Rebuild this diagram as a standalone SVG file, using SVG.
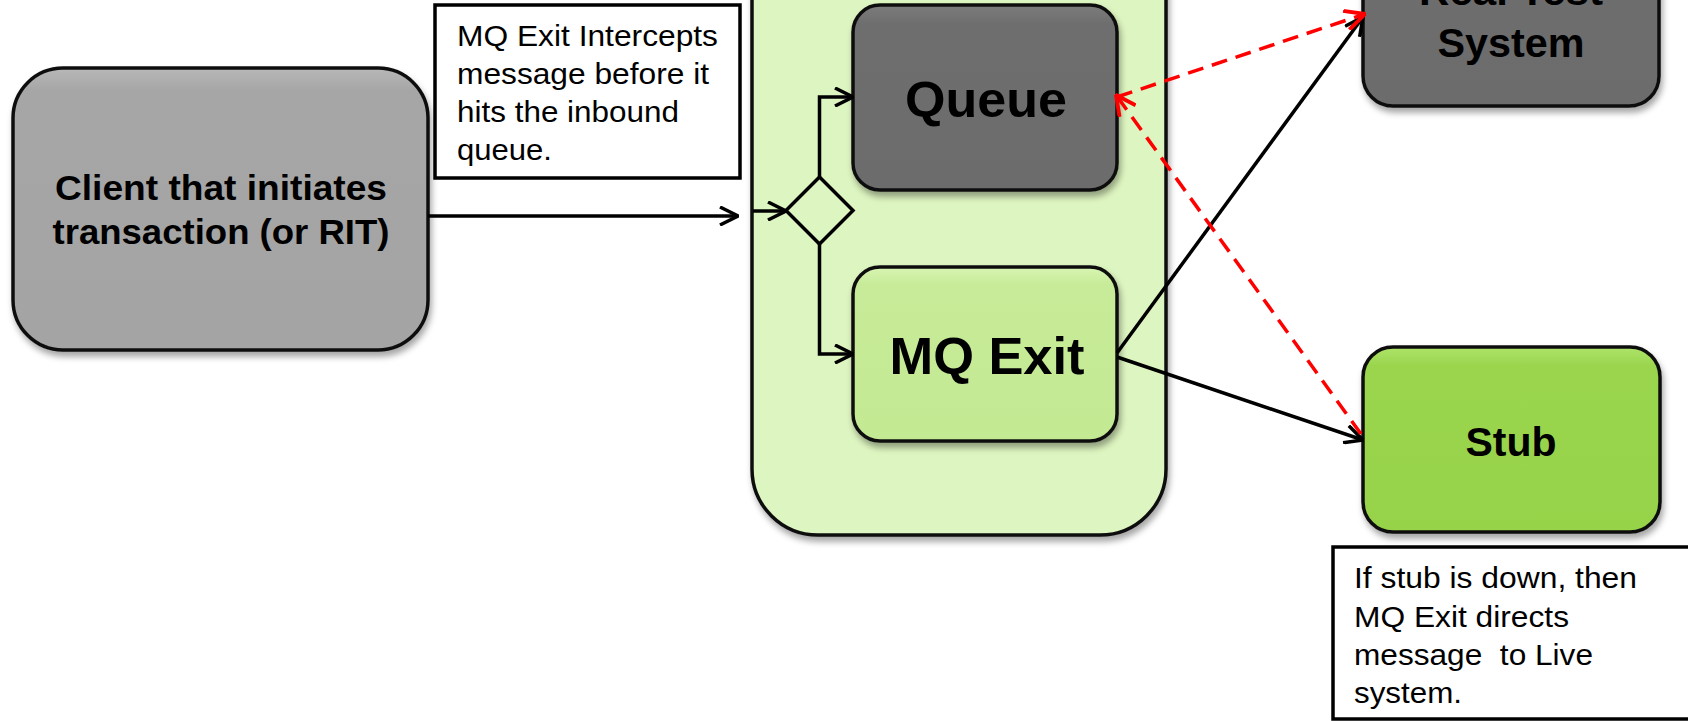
<svg xmlns="http://www.w3.org/2000/svg" width="1688" height="721" viewBox="0 0 1688 721">
  <style>
    .box { stroke: #111; stroke-width: 3.5; }
    .note { fill: #fff; stroke: #000; stroke-width: 3.5; }
    .bold { font-family: "Liberation Sans", Arial, sans-serif; font-weight: bold; fill: #000; text-anchor: middle; }
    .reg { font-family: "Liberation Sans", Arial, sans-serif; font-size: 30px; fill: #000; }
    .conn { fill: none; stroke: #000; stroke-width: 3.5; }
    .red { fill: none; stroke: #ff0000; stroke-width: 3.5; stroke-dasharray: 16 9; }
  </style>
  <defs>
    <filter id="shadow" x="-10%" y="-10%" width="125%" height="130%">
      <feDropShadow dx="2" dy="5" stdDeviation="3" flood-color="#000" flood-opacity="0.35"/>
    </filter>
    <linearGradient id="gGray" x1="0" y1="0" x2="0" y2="1">
      <stop offset="0" stop-color="#b8b8b8"/>
      <stop offset="0.08" stop-color="#a6a6a6"/>
      <stop offset="1" stop-color="#a4a4a4"/>
    </linearGradient>
    <linearGradient id="gDark" x1="0" y1="0" x2="0" y2="1">
      <stop offset="0" stop-color="#7c7c7c"/>
      <stop offset="0.1" stop-color="#6e6e6e"/>
      <stop offset="1" stop-color="#6c6c6c"/>
    </linearGradient>
    <linearGradient id="gLight" x1="0" y1="0" x2="0" y2="1">
      <stop offset="0" stop-color="#d8f5b3"/>
      <stop offset="0.1" stop-color="#c7eb98"/>
      <stop offset="1" stop-color="#c4e993"/>
    </linearGradient>
    <linearGradient id="gStub" x1="0" y1="0" x2="0" y2="1">
      <stop offset="0" stop-color="#aee46a"/>
      <stop offset="0.1" stop-color="#9ad54e"/>
      <stop offset="1" stop-color="#97d34a"/>
    </linearGradient>
    <marker id="arrow" markerUnits="userSpaceOnUse" viewBox="0 0 20 20" refX="19" refY="10" markerWidth="20" markerHeight="20" orient="auto">
      <path d="M1,1 L19,10 L1,19" fill="none" stroke="#000" stroke-width="3.5"/>
    </marker>
    <marker id="arrowRed" markerUnits="userSpaceOnUse" viewBox="0 0 20 20" refX="19" refY="10" markerWidth="22" markerHeight="22" orient="auto">
      <path d="M1,1 L19,10 L1,19" fill="none" stroke="#ff0000" stroke-width="3.5"/>
    </marker>
  </defs>

  <rect width="1688" height="721" fill="#fff"/>

  <g id="container">
    <rect class="box" x="752" y="-120" width="414" height="655" rx="66" ry="66" fill="#ddf5c0" filter="url(#shadow)"/>
  </g>

  <g id="client">
    <rect class="box" x="13" y="68" width="415" height="282" rx="50" ry="50" fill="url(#gGray)" filter="url(#shadow)"/>
    <text class="bold" font-size="35" x="221" y="200" textLength="332" lengthAdjust="spacingAndGlyphs">Client that initiates</text>
    <text class="bold" font-size="35" x="221" y="244" textLength="337" lengthAdjust="spacingAndGlyphs">transaction (or RIT)</text>
  </g>

  <g id="note-intercept">
    <rect class="note" x="435" y="5" width="305" height="173"/>
    <text class="reg" x="457" y="46" textLength="261" lengthAdjust="spacingAndGlyphs">MQ Exit Intercepts</text>
    <text class="reg" x="457" y="84" textLength="252" lengthAdjust="spacingAndGlyphs">message before it</text>
    <text class="reg" x="457" y="122" textLength="222" lengthAdjust="spacingAndGlyphs">hits the inbound</text>
    <text class="reg" x="457" y="160" textLength="95" lengthAdjust="spacingAndGlyphs">queue.</text>
  </g>

  <g id="queue">
    <rect class="box" x="853" y="5" width="264" height="185" rx="27" ry="27" fill="url(#gDark)" filter="url(#shadow)"/>
    <text class="bold" font-size="50" x="986" y="117" textLength="162" lengthAdjust="spacingAndGlyphs">Queue</text>
  </g>

  <g id="mq-exit">
    <rect class="box" x="853" y="267" width="264" height="174" rx="27" ry="27" fill="url(#gLight)" filter="url(#shadow)"/>
    <text class="bold" font-size="52" x="987" y="374" textLength="195" lengthAdjust="spacingAndGlyphs">MQ Exit</text>
  </g>

  <g id="decision">
    <polygon points="819.5,177 853,210.5 819.5,244 786,210.5" fill="none" stroke="#000" stroke-width="3.5"/>
  </g>

  <g id="real-test-system">
    <rect class="box" x="1363" y="-60" width="296" height="166" rx="30" ry="30" fill="url(#gDark)" filter="url(#shadow)"/>
    <text class="bold" font-size="41" x="1511" y="5" textLength="184" lengthAdjust="spacingAndGlyphs">Real Test</text>
    <text class="bold" font-size="41" x="1511" y="57" textLength="147" lengthAdjust="spacingAndGlyphs">System</text>
  </g>

  <g id="stub">
    <rect class="box" x="1363" y="347" width="297" height="185" rx="30" ry="30" fill="url(#gStub)" filter="url(#shadow)"/>
    <text class="bold" font-size="41" x="1511" y="456" textLength="91" lengthAdjust="spacingAndGlyphs">Stub</text>
  </g>

  <g id="note-stub">
    <rect class="note" x="1333" y="547" width="380" height="172"/>
    <text class="reg" x="1354" y="588" textLength="283" lengthAdjust="spacingAndGlyphs">If stub is down, then</text>
    <text class="reg" x="1354" y="627" textLength="215" lengthAdjust="spacingAndGlyphs">MQ Exit directs</text>
    <text class="reg" x="1354" y="665" textLength="239" lengthAdjust="spacingAndGlyphs" xml:space="preserve">message  to Live</text>
    <text class="reg" x="1354" y="703" textLength="108" lengthAdjust="spacingAndGlyphs">system.</text>
  </g>

  <g id="connectors">
    <path class="conn" d="M428,216 L738,216" marker-end="url(#arrow)"/>
    <path class="conn" d="M753,211 L786,211" marker-end="url(#arrow)"/>
    <path class="conn" d="M819.5,177 L819.5,97 L853,97" marker-end="url(#arrow)"/>
    <path class="conn" d="M819.5,244 L819.5,354 L853,354" marker-end="url(#arrow)"/>
    <path class="conn" d="M1117,353 L1363,17" marker-end="url(#arrow)"/>
    <path class="conn" d="M1117,357 L1363,440" marker-end="url(#arrow)"/>
    <path class="red" d="M1117,97 L1365,14" marker-end="url(#arrowRed)"/>
    <path class="red" d="M1361,434 L1116,95" marker-end="url(#arrowRed)"/>
  </g>
</svg>
